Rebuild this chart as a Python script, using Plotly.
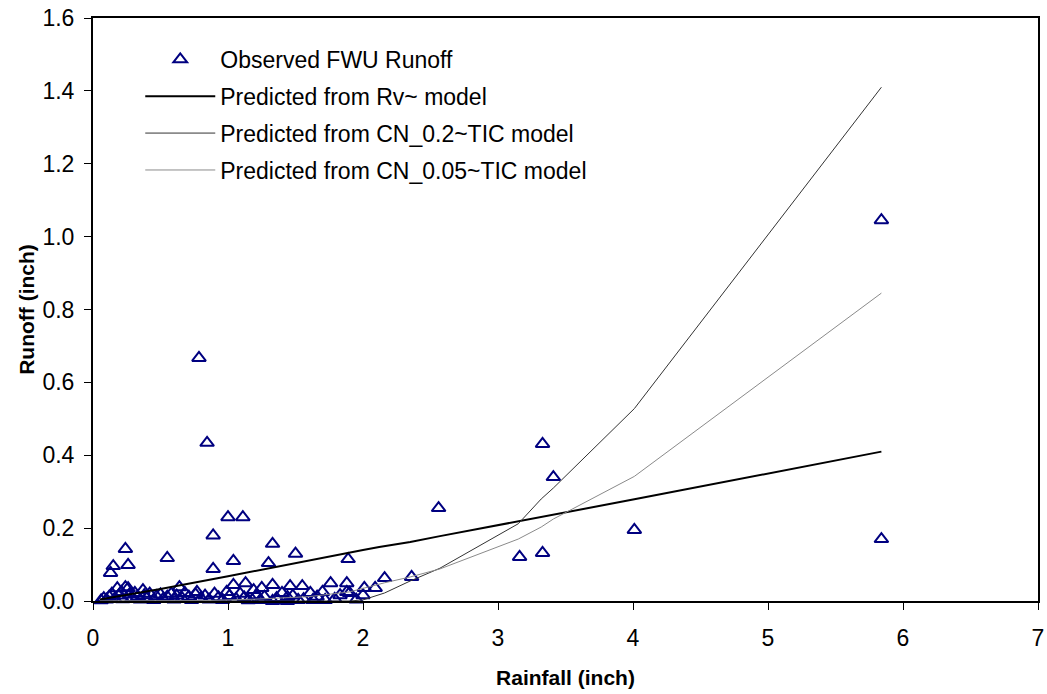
import plotly.graph_objects as go

# Observed FWU runoff (rainfall inch, runoff inch)
obs_rainfall = [0.785, 0.845, 1.00, 1.11, 0.89, 1.33, 1.50, 1.30, 1.04, 0.89, 0.55, 0.24, 0.26, 0.15, 0.13,
                1.89, 2.56, 2.36, 2.16, 3.16, 3.33, 3.33, 3.41, 4.01, 5.84, 5.84,
                1.33, 1.25, 1.46, 1.55, 1.76, 1.88, 1.40, 1.61, 1.70, 1.88, 1.90, 2.00, 2.09, 2.01, 1.83,
                0.64, 0.24, 0.18, 0.26, 0.37, 0.77, 1.04, 1.13, 0.99, 1.19,
                1.18, 1.24, 1.33, 1.44, 1.63, 1.72, 1.56, 1.44,
                0.06, 0.08, 0.10, 0.12, 0.14, 0.16, 0.19, 0.21, 0.22, 0.27, 0.29, 0.31, 0.33, 0.35, 0.38,
                0.40, 0.42, 0.45, 0.47, 0.50, 0.52, 0.55, 0.58, 0.60, 0.62, 0.66, 0.68, 0.71, 0.73, 0.76,
                0.80, 0.83, 0.86, 0.90, 0.93, 0.96, 1.01, 1.06, 1.09, 1.12, 1.15, 1.21, 1.27, 1.36, 1.48,
                1.52, 1.66, 1.79, 1.95]
obs_runoff = [0.667, 0.434, 0.230, 0.230, 0.180, 0.157, 0.130, 0.104, 0.110, 0.088, 0.118, 0.143, 0.099, 0.096, 0.077,
              0.115, 0.255, 0.066, 0.063, 0.121, 0.132, 0.431, 0.340, 0.195, 1.045, 0.170,
              0.044, 0.036, 0.041, 0.041, 0.049, 0.049, 0.022, 0.022, 0.025, 0.025, 0.022, 0.016, 0.036, 0.036, 0.016,
              0.038, 0.038, 0.035, 0.035, 0.030, 0.025, 0.044, 0.049, 0.025, 0.030,
              0.003, 0.003, 0.000, 0.011, 0.003, 0.003, 0.005, 0.000,
              0.002, 0.008, 0.004, 0.012, 0.020, 0.006, 0.015, 0.025, 0.005, 0.018, 0.008, 0.022, 0.012, 0.004, 0.016,
              0.008, 0.020, 0.003, 0.013, 0.018, 0.006, 0.012, 0.020, 0.004, 0.015, 0.008, 0.022, 0.012, 0.003, 0.018,
              0.008, 0.015, 0.004, 0.020, 0.010, 0.003, 0.014, 0.006, 0.020, 0.010, 0.002, 0.016, 0.012, 0.008, 0.015,
              0.003, 0.012, 0.006, 0.004]

# Predicted from Rv~ model
rv_rainfall = [0.05, 0.30, 0.50, 1.00, 1.50, 2.00, 2.12, 2.35, 2.57, 3.15, 3.32, 3.41, 4.01, 5.84]
rv_runoff = [0.004, 0.020, 0.033, 0.068, 0.105, 0.140, 0.148, 0.162, 0.178, 0.218, 0.230, 0.238, 0.279, 0.410]

# Predicted from CN_0.2~TIC model
cn02_rainfall = [0.05, 1.50, 1.90, 2.00, 2.16, 2.35, 2.57, 3.15, 3.32, 3.41, 4.01, 5.84]
cn02_runoff = [0.000, 0.000, 0.000, 0.003, 0.022, 0.055, 0.090, 0.212, 0.280, 0.310, 0.528, 1.410]

# Predicted from CN_0.05~TIC model
cn005_rainfall = [0.05, 0.80, 1.20, 1.60, 1.90, 2.00, 2.16, 2.35, 2.57, 3.15, 3.32, 3.41, 4.01, 5.84]
cn005_runoff = [0.000, 0.001, 0.005, 0.012, 0.025, 0.035, 0.050, 0.066, 0.088, 0.170, 0.203, 0.225, 0.342, 0.845]

x_ticks = [0, 1, 2, 3, 4, 5, 6, 7]
y_ticks = [0.0, 0.2, 0.4, 0.6, 0.8, 1.0, 1.2, 1.4, 1.6]

FONT = "Liberation Sans, Arial, sans-serif"

fig = go.Figure()
fig.add_trace(go.Scatter(
    x=obs_rainfall, y=obs_runoff, mode="markers", name="Observed FWU Runoff",
    marker=dict(symbol="triangle-up-open", size=12, color="#000080", line=dict(width=2, color="#000080")),
    legendgroup="a", cliponaxis=False,
))
fig.add_trace(go.Scatter(
    x=rv_rainfall, y=rv_runoff, mode="lines", name="Predicted from Rv~ model",
    line=dict(color="#000000", width=2), legendgroup="b",
))
fig.add_trace(go.Scatter(
    x=cn02_rainfall, y=cn02_runoff, mode="lines", name="Predicted from CN_0.2~TIC model",
    line=dict(color="#333333", width=1), legendgroup="c",
))
fig.add_trace(go.Scatter(
    x=cn005_rainfall, y=cn005_runoff, mode="lines", name="Predicted from CN_0.05~TIC model",
    line=dict(color="#8a8a8a", width=1), legendgroup="d",
))

fig.update_layout(
    width=1047, height=694,
    margin=dict(l=93, r=9, t=18, b=93, autoexpand=False),
    paper_bgcolor="white", plot_bgcolor="white",
    font=dict(family=FONT, size=23, color="black"),
    showlegend=True,
    legend=dict(
        x=0.05, y=0.966, xanchor="left", yanchor="top",
        font=dict(family=FONT, size=23, color="black"),
        bgcolor="rgba(0,0,0,0)", borderwidth=0,
        traceorder="grouped", tracegroupgap=4, itemwidth=70,
    ),
    xaxis=dict(
        range=[0, 7], tickvals=x_ticks, ticktext=[str(v) for v in x_ticks],
        showgrid=False, zeroline=False, showline=True, linecolor="black", linewidth=2, mirror=True,
        ticks="outside", ticklen=7, tickwidth=1, tickcolor="black", ticklabelstandoff=8,
        ticklabeloverflow="allow",
        title=dict(text="<b>Rainfall (inch)</b>", font=dict(family=FONT, size=21), standoff=21),
        tickfont=dict(family=FONT, size=23),
    ),
    yaxis=dict(
        range=[0, 1.6], tickvals=y_ticks, ticktext=[f"{v:.1f}" for v in y_ticks],
        showgrid=False, zeroline=False, showline=True, linecolor="black", linewidth=2, mirror=True,
        ticks="outside", ticklen=7, tickwidth=1, tickcolor="black", ticklabelstandoff=5,
        ticklabeloverflow="allow",
        title=dict(text="<b>Runoff (inch)</b>", font=dict(family=FONT, size=21), standoff=2),
        tickfont=dict(family=FONT, size=23),
    ),
)

# remove the browser's default 8px body margin so the figure fills the window exactly
fig.write_html("out.html", config={"displayModeBar": False},
               post_script="document.body.style.margin='0';")
